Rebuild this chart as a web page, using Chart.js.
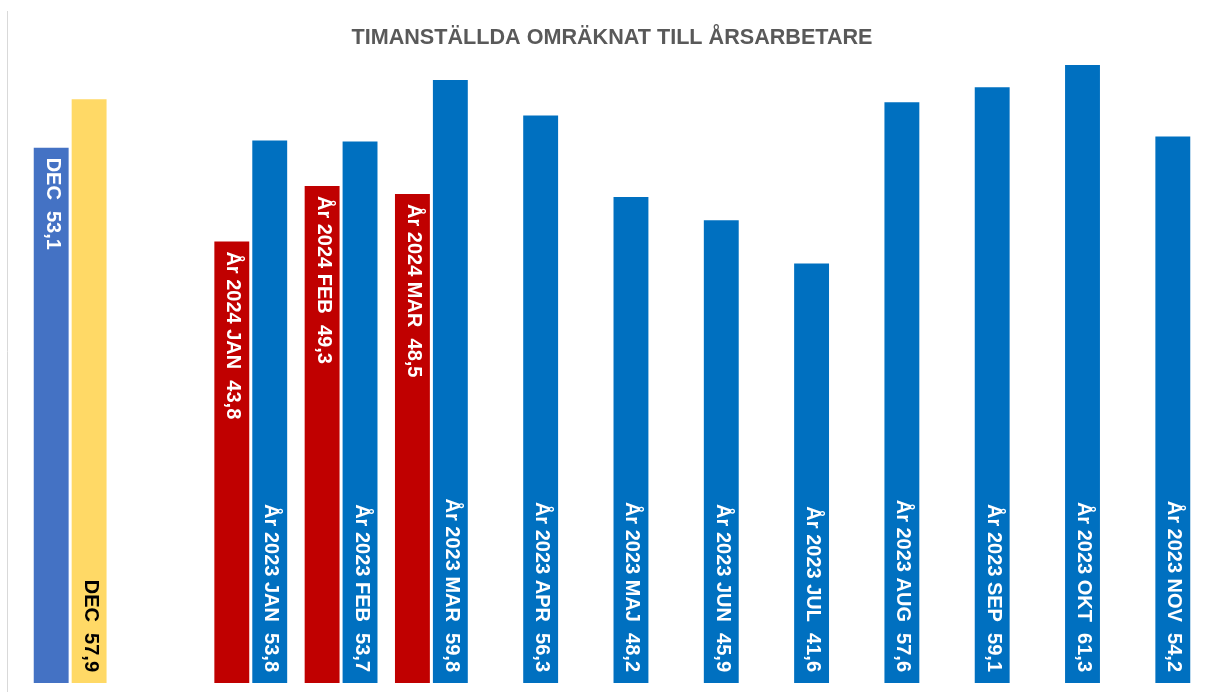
<!DOCTYPE html>
<html>
<head>
<meta charset="utf-8">
<script src="https://cdn.jsdelivr.net/npm/chart.js@4"></script>
<style>
  html, body { margin: 0; padding: 0; background: #fff; }
  #wrap { width: 1206px; height: 692px; }
</style>
</head>
<body>
<div id="wrap"><canvas id="chart"></canvas></div>
<script>
const categories = ['DEC', '', 'JAN', 'FEB', 'MAR', 'APR', 'MAJ', 'JUN', 'JUL', 'AUG', 'SEP', 'OKT', 'NOV'];
const leftValues = [53.1, null, 43.8, 49.3, 48.5, null, null, null, null, null, null, null, null];
const rightValues = [57.9, null, 53.8, 53.7, 59.8, 56.3, 48.2, 45.9, 41.6, 57.6, 59.1, 61.3, 54.2];
const leftPrefix = ['DEC', '', 'År 2024 JAN', 'År 2024 FEB', 'År 2024 MAR', '', '', '', '', '', '', '', ''];
const rightPrefix = ['DEC', '', 'År 2023 JAN', 'År 2023 FEB', 'År 2023 MAR', 'År 2023 APR', 'År 2023 MAJ',
  'År 2023 JUN', 'År 2023 JUL', 'År 2023 AUG', 'År 2023 SEP', 'År 2023 OKT', 'År 2023 NOV'];
const leftColors = ['#4472C4', null, '#C00000', '#C00000', '#C00000'];
const rightColors = ['#FFD966'].concat(Array(12).fill('#0070C0'));

const fmt = (v) => v.toFixed(1).replace('.', ',');

// rotated value labels inside the bars
const barLabels = {
  id: 'barLabels',
  afterDatasetsDraw(chart) {
    const ctx = chart.ctx;
    ctx.save();
    ctx.font = 'bold 20px "Liberation Sans", Arial, sans-serif';
    chart.data.datasets.forEach((ds, di) => {
      const meta = chart.getDatasetMeta(di);
      meta.data.forEach((bar, i) => {
        const v = ds.data[i];
        if (v == null) return;
        const text = ds.prefix[i] + '  ' + fmt(v);
        ctx.save();
        ctx.translate(bar.x + 1, 0);
        ctx.rotate(Math.PI / 2);
        ctx.fillStyle = ds.labelColor[i];
        ctx.textBaseline = 'middle';
        if (ds.labelTop[i]) {
          ctx.textAlign = 'left';
          ctx.fillText(text, bar.y + 10, 0);
        } else {
          ctx.textAlign = 'right';
          ctx.fillText(text, bar.base - 11, 0);
        }
        ctx.restore();
      });
    });
    ctx.restore();
  }
};

const frameLine = {
  id: 'frameLine',
  beforeDraw(chart) {
    const ctx = chart.ctx;
    ctx.save();
    ctx.strokeStyle = '#d9d9d9';
    ctx.lineWidth = 1;
    ctx.beginPath();
    ctx.moveTo(7.5, 11);
    ctx.lineTo(7.5, 692);
    ctx.stroke();
    ctx.restore();
  }
};

new Chart(document.getElementById('chart'), {
  type: 'bar',
  data: {
    labels: categories,
    datasets: [
      {
        data: leftValues,
        backgroundColor: leftColors,
        prefix: leftPrefix,
        labelTop: leftValues.map(() => true),
        labelColor: leftValues.map(() => '#ffffff')
      },
      {
        data: rightValues,
        backgroundColor: rightColors,
        prefix: rightPrefix,
        labelTop: rightValues.map(() => false),
        labelColor: rightValues.map((v, i) => (i === 0 ? '#000000' : '#ffffff'))
      }
    ]
  },
  options: {
    responsive: true,
    maintainAspectRatio: false,
    animation: false,
    layout: { padding: { left: 25, right: 7, top: 0, bottom: 9 } },
    datasets: {
      bar: { categoryPercentage: 0.84, barPercentage: 0.92 }
    },
    scales: {
      x: { display: false },
      y: { display: false, min: 0, max: 62 }
    },
    plugins: {
      legend: { display: false },
      tooltip: { enabled: false },
      title: {
        display: true,
        text: 'TIMANSTÄLLDA OMRÄKNAT TILL ÅRSARBETARE',
        color: '#595959',
        font: { size: 21.6, weight: 'bold', family: '"Liberation Sans", Arial, sans-serif' },
        padding: { top: 25, bottom: 7 }
      }
    }
  },
  plugins: [frameLine, barLabels]
});
</script>
</body>
</html>
